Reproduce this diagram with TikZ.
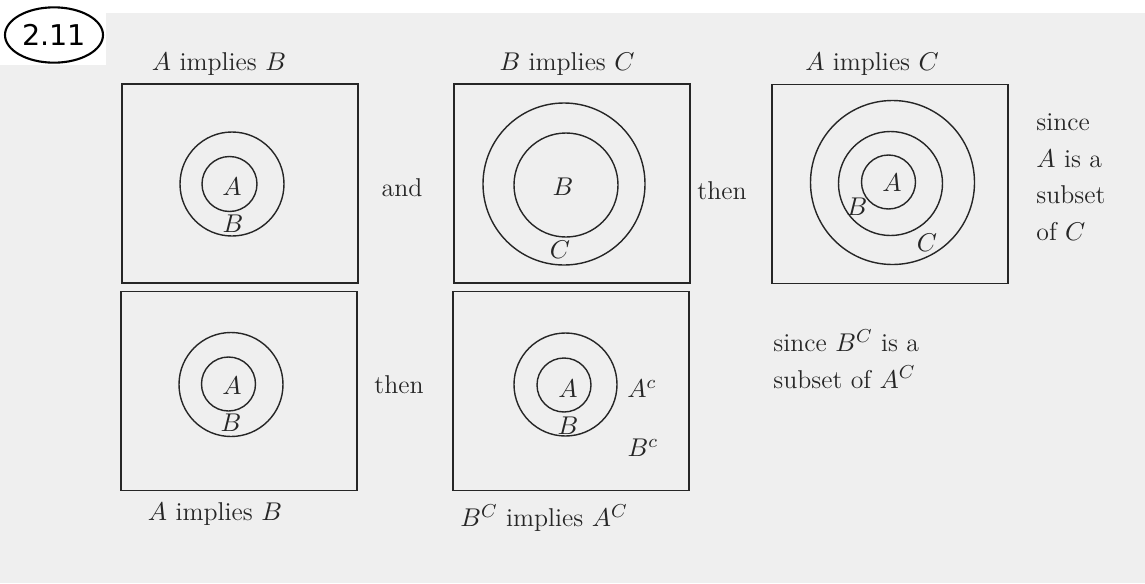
\documentclass[tikz,border=0pt]{standalone}
\usepackage{fontspec}
\newfontfamily\badgefont{DejaVu Sans}
\usetikzlibrary{shapes.geometric}
\definecolor{page}{HTML}{EFEFEF}
\definecolor{ink}{HTML}{262626}

\begin{document}
\begin{tikzpicture}[
  x=0.015cm, y=-0.015cm,
  panel/.style={rectangle, draw=ink, line width=0.6pt, inner sep=0pt,
              minimum width=3.54cm, minimum height=2.985cm},
  ring/.style={draw=ink, line width=0.6pt},
  lbl/.style={inner sep=0pt, text=ink, font=\fontsize{11}{13}\selectfont},
  note/.style={inner sep=0pt, text=ink, align=left, anchor=west,
              font=\fontsize{11}{15.6}\selectfont},
  badge/.style={ellipse, draw=black, line width=0.9pt, inner sep=0pt,
              minimum width=1.47cm, minimum height=0.83cm,
              font=\badgefont\fontsize{12.2}{14}\selectfont}
]
% page of the scan
\fill[page] (0,13) rectangle (1145,583);
\fill[white] (0,0) rectangle (106,65);
\useasboundingbox (0,0) rectangle (1145,583);

\node[badge] (num) at (54,35) {2.11};

% top row
\node[panel] (pAB) at (240,183.5) {};
\node[panel] (pBC) at (572,183.5) {};
\node[panel] (pAC) at (890,184) {};
\node[lbl] (tAB) at (219,64) {$A$ implies $B$};
\node[lbl] (tBC) at (567,64) {$B$ implies $C$};
\node[lbl] (tAC) at (872,64) {$A$ implies $C$};

\draw[ring] (232,184) circle[radius=52];
\draw[ring] (229.5,184) circle[radius=27.5];
\node[lbl] (aAB) at (232,187) {$A$};
\node[lbl] (bAB) at (233,224) {$B$};

\draw[ring] (564,184) circle[radius=81];
\draw[ring] (566,185) circle[radius=52];
\node[lbl] (bBC) at (563,187) {$B$};
\node[lbl] (cBC) at (560,250) {$C$};

\draw[ring] (892.5,182.5) circle[radius=82];
\draw[ring] (890.5,183.5) circle[radius=52];
\draw[ring] (888.5,182) circle[radius=27];
\node[lbl] (aAC) at (892,183) {$A$};
\node[lbl] (bAC) at (857,207) {$B$};
\node[lbl] (cAC) at (927,243) {$C$};

\node[lbl] (and) at (402,188) {and};
\node[lbl] (then1) at (722,191) {then};
\node[note] (since1) at (1036,177) {since\\$A$ is a\\subset\\of $C$};

% bottom row
\node[panel] (pAB2) at (239,391) {};
\node[panel] (pBcAc) at (571,391) {};
\node[lbl] (tAB2) at (215,514) {$A$ implies $B$};
\node[lbl] (tBcAc) at (544,518) {$B^C$ implies $A^C$};

\draw[ring] (231,384.5) circle[radius=52];
\draw[ring] (228.5,384) circle[radius=27];
\node[lbl] (aAB2) at (232,386) {$A$};
\node[lbl] (bAB2) at (231,423) {$B$};

\draw[ring] (565.5,384.5) circle[radius=51.5];
\draw[ring] (564,385) circle[radius=27];
\node[lbl] (aBc) at (568,389) {$A$};
\node[lbl] (bBc) at (568,426) {$B$};
\node[lbl] (acBc) at (642,389) {$A^c$};
\node[lbl] (bcBc) at (643,448) {$B^c$};

\node[lbl] (then2) at (399,385) {then};
\node[note] (since2) at (773,359) {since $B^C$ is a\\subset of $A^C$};
\end{tikzpicture}
\end{document}
